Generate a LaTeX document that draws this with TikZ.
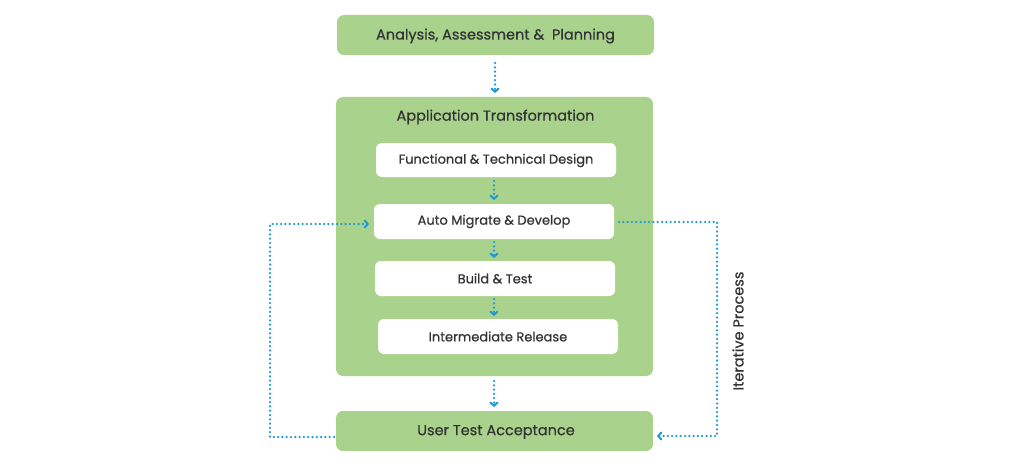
\documentclass[tikz,border=0pt]{standalone}
\usepackage{fontspec}
\setmainfont{Poppins}[FakeBold=0.6]
\usetikzlibrary{arrows.meta}
\definecolor{boxgreen}{HTML}{A9D38C}
\definecolor{dotblue}{HTML}{1C9AD6}
\definecolor{txt}{HTML}{333333}
\begin{document}
\begin{tikzpicture}[x=1pt,y=-1pt,
  greenbox/.style={fill=boxgreen,rounded corners=7pt,draw=none},
  whitebox/.style={fill=white,rounded corners=6pt,draw=none},
  bigtext/.style={text=txt,font=\fontsize{14.5}{17}\selectfont},
  smalltext/.style={text=txt,font=\fontsize{13}{15}\selectfont},
  flow/.style={dotblue,line width=2.5pt,line cap=round,dash pattern=on 0pt off 4.3pt,-{Straight Barb[length=3pt,width=7pt,line width=2pt,line cap=round]}},
]
\useasboundingbox (0,0) rectangle (1024,468);
\fill[white] (0,0) rectangle (1024,468);
% boxes
\path[greenbox] (337,15) rectangle (654,55);
\node[bigtext] (aap) at (495.5,36) {Analysis, Assessment \&\ \ Planning};
\coordinate (aapb) at (495,63);
\path[greenbox] (336,97) rectangle (653,376);
\node[bigtext] (at) at (495.5,117) {Application Transformation};
\coordinate (atT) at (495,93);
\coordinate (atB) at (494,381);
\path[whitebox] (376,143) rectangle (616,177);
\node[smalltext] (ftd) at (496,160.5) {Functional \& Technical Design};
\path[whitebox] (374,204) rectangle (614,239);
\node[smalltext] (amd) at (494,221.5) {Auto Migrate \& Develop};
\path[whitebox] (375,261) rectangle (615,296);
\node[smalltext] (bt) at (495,278.5) {Build \& Test};
\path[whitebox] (378,319) rectangle (618,354);
\node[smalltext] (ir) at (498,336.5) {Intermediate Release};
\path[greenbox] (336,411) rectangle (653,451);
\node[bigtext] (uta) at (496,432) {User Test Acceptance};
\coordinate (utaT) at (494,407);
% coordinates
\coordinate (f1) at (494,181);
\coordinate (f2) at (494,200);
\coordinate (b1) at (494,242);
\coordinate (b2) at (494,258);
\coordinate (i1) at (494,299);
\coordinate (i2) at (494,316);
\coordinate (L0) at (334,437);
\coordinate (L1) at (270,437);
\coordinate (L2) at (270,224);
\coordinate (L3) at (369,224);
\coordinate (R0) at (619,222);
\coordinate (R1) at (717,222);
\coordinate (R2) at (717,436);
\coordinate (R3) at (657,436);
% arrows
\draw[flow] (aapb) -- (atT);
\draw[flow] (f1) -- (f2);
\draw[flow] (b1) -- (b2);
\draw[flow] (i1) -- (i2);
\draw[flow] (atB) -- (utaT);
\draw[flow] (L0) -- (L1) -- (L2) -- (L3);
\draw[flow] (R0) -- (R1) -- (R2) -- (R3);
\node[text=txt,font=\fontsize{14.5}{17}\selectfont,rotate=90] (ip) at (738,331) {Iterative Process};
\end{tikzpicture}
\end{document}
